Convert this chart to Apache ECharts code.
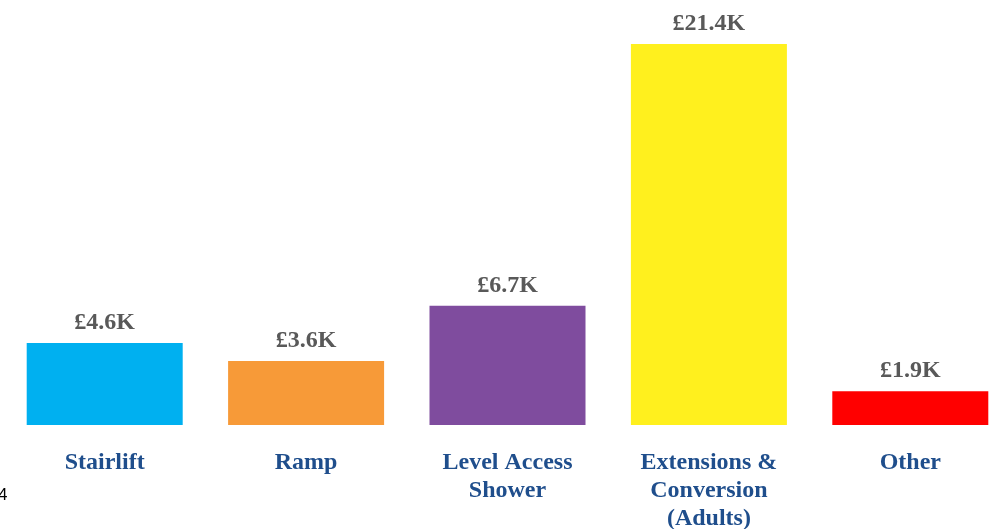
<!DOCTYPE html>
<html>
<head>
<meta charset="utf-8">
<script src="https://cdn.jsdelivr.net/npm/echarts@6/dist/echarts.min.js"></script>
<style>
  html, body { margin: 0; padding: 0; background: #ffffff; }
  #chart { width: 992px; height: 529px; }
</style>
</head>
<body>
<div id="chart"></div>
<script>
// Average grant cost per adaptation type (thousands of pounds)
const categories = ['Stairlift', 'Ramp', 'Level Access\nShower', 'Extensions &\nConversion\n(Adults)', 'Other'];
const values = [4.6, 3.6, 6.7, 21.4, 1.9];
const barColors = ['#00B0F0', '#F79A38', '#7F4C9E', '#FFF01E', '#FF0000'];
const pageNumber = '4';

const serif = '"Liberation Serif", "Times New Roman", serif';

const chart = echarts.init(document.getElementById('chart'), null, { renderer: 'canvas' });

chart.setOption({
  animation: false,
  backgroundColor: '#ffffff',
  // plot area runs past the right edge of the page
  grid: { left: 4, right: -19, top: 44, bottom: 104, outerBoundsMode: 'none' },
  xAxis: {
    type: 'category',
    data: categories,
    axisLine: { show: false },
    axisTick: { show: false },
    axisLabel: {
      interval: 0,
      margin: 24,
      fontFamily: serif,
      fontWeight: 'bold',
      fontSize: 24,
      lineHeight: 28,
      color: '#1F4E8C'
    }
  },
  yAxis: {
    type: 'value',
    min: 0,
    max: 21.4,
    show: false,
    splitLine: { show: false }
  },
  series: [{
    type: 'bar',
    barWidth: 156,
    data: values.map((v, i) => ({ value: v, itemStyle: { color: barColors[i] } })),
    label: {
      show: true,
      position: 'top',
      distance: 8,
      fontFamily: serif,
      fontWeight: 'bold',
      fontSize: 24,
      color: '#595959',
      formatter: p => '£' + p.value.toFixed(1) + 'K'
    }
  }],
  graphic: [{
    type: 'text',
    left: -2,
    top: 487,
    style: {
      text: pageNumber,
      font: '17px "Liberation Sans", Arial, sans-serif',
      fill: '#000000'
    }
  }]
});
</script>
</body>
</html>
